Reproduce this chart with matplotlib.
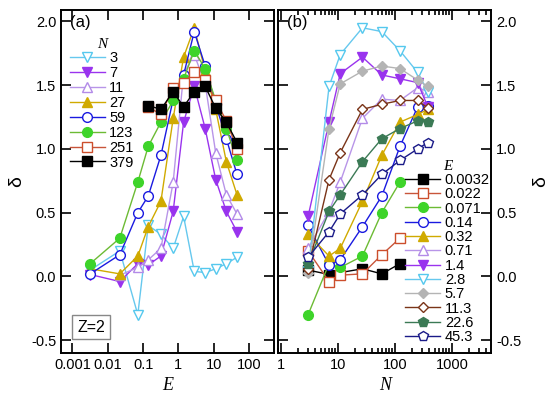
import numpy as np
import matplotlib
matplotlib.use('Agg')
import matplotlib.pyplot as plt

# cluster sizes N and energies E
N_vals = [3, 7, 11, 27, 59, 123, 251, 379]
E_vals = [0.0032, 0.022, 0.071, 0.14, 0.32, 0.71, 1.4, 2.8, 5.7, 11.3, 22.6, 45.3]
nan = np.nan

# delta for each N (rows), one value per E (columns)
delta_N3 = [0.05, 0.20, -0.30, 0.40, 0.33, 0.22, 0.47, 0.04, 0.03, 0.06, 0.10, 0.15]
delta_N7 = [0.015, -0.04, 0.10, 0.09, 0.16, 0.51, 1.21, 1.49, 1.16, 0.76, 0.51, 0.35]
delta_N11 = [nan, 0.01, 0.07, 0.13, 0.22, 0.74, 1.59, 1.74, 1.51, 0.97, 0.64, 0.49]
delta_N27 = [0.06, 0.02, 0.16, 0.39, 0.59, 1.24, 1.72, 1.95, 1.61, 1.31, 0.90, 0.64]
delta_N59 = [0.02, 0.17, 0.50, 0.63, 0.95, 1.39, 1.58, 1.92, 1.65, 1.35, 1.08, 0.80]
delta_N123 = [0.10, 0.30, 0.74, 1.02, 1.21, 1.38, 1.55, 1.77, 1.63, 1.38, 1.16, 0.91]
delta_N251 = [nan, nan, nan, 1.33, 1.27, 1.48, 1.52, 1.60, 1.54, 1.38, 1.22, 1.00]
delta_N379 = [nan, nan, nan, 1.34, 1.31, 1.45, 1.33, 1.45, 1.49, 1.32, 1.21, 1.05]

delta = np.array([delta_N3, delta_N7, delta_N11, delta_N27,
                  delta_N59, delta_N123, delta_N251, delta_N379])

# styles: (line colour, marker colour, marker, filled)
n_styles = [
    ('#66c8ee', '#55c8ee', 'v', False),
    ('#9a33ee', '#9933ee', 'v', True),
    ('#b895e8', '#b38be8', '^', False),
    ('#d0aa00', '#d0aa00', '^', True),
    ('#1a1ae0', '#1a1ae0', 'o', False),
    ('#6cbb34', '#3ed42a', 'o', True),
    ('#c8553a', '#cc4e2c', 's', False),
    ('black', 'black', 's', True),
]
e_styles = [
    ('black', 'black', 's', True),
    ('#c8553a', '#cc4e2c', 's', False),
    ('#6cbb34', '#3ed42a', 'o', True),
    ('#1a1ae0', '#1a1ae0', 'o', False),
    ('#d0aa00', '#d0aa00', '^', True),
    ('#b895e8', '#b38be8', '^', False),
    ('#9a33ee', '#9933ee', 'v', True),
    ('#66c8ee', '#55c8ee', 'v', False),
    ('#b4b4b4', '#b4b4b4', 'D', True),
    ('#7a3418', '#7a3418', 'D', False),
    ('#3b7a55', '#3b7a55', 'p', True),
    ('#1a1a88', '#1a1a88', 'p', False),
]

plt.rcParams['font.family'] = ['Liberation Sans', 'DejaVu Sans']
plt.rcParams['font.size'] = 10.5

fig = plt.figure(figsize=(5.5, 3.97), dpi=100)
ax1 = fig.add_axes([0.111, 0.111, 0.387, 0.864])
ax2 = fig.add_axes([0.506, 0.111, 0.387, 0.864])


def draw(ax, x, y, style, label):
    lc, mc, mk, filled = style
    x = np.asarray(x)
    y = np.asarray(y)
    ok = ~np.isnan(y)
    ms = {'D': 5.6, 'p': 7.4, 's': 6.6}.get(mk, 7.0)
    ax.plot(x[ok], y[ok], color=lc, lw=1.0, marker=mk, ms=ms,
            mec=mc, mfc=mc if filled else 'white', mew=1.0, label=label)


for i, n in enumerate(N_vals):
    draw(ax1, E_vals, delta[i], n_styles[i], str(n))

for j, e in enumerate(E_vals):
    draw(ax2, N_vals, delta[:, j], e_styles[j], str(e))

for ax in (ax1, ax2):
    ax.set_xscale('log')
    ax.set_ylim(-0.6, 2.09)
    ax.set_yticks([-0.5, 0.0, 0.5, 1.0, 1.5, 2.0])
    ax.set_yticklabels(['-0.5', '0.0', '0.5', '1.0', '1.5', '2.0'])
    ax.tick_params(which='both', direction='in', top=True, right=True, width=1.2)
    ax.tick_params(which='major', length=7)
    ax.tick_params(which='minor', length=3.5)
    for s in ax.spines.values():
        s.set_linewidth(1.4)

ax1.set_xlim(4.8e-4, 500)
ax1.set_xticks([0.001, 0.01, 0.1, 1, 10, 100])
ax1.set_xticklabels(['0.001', '0.01', '0.1', '1', '10', '100'])
ax1.set_xlabel('E', family='Liberation Serif', style='italic', fontsize=13)
ax1.set_ylabel('δ', fontsize=14)

ax2.set_xlim(0.9, 4900)
ax2.set_xticks([1, 10, 100, 1000])
ax2.set_xticklabels(['1', '10', '100', '1000'])
ax2.set_xlabel('N', family='Liberation Serif', style='italic', fontsize=13)
ax2.tick_params(axis='y', labelleft=False, labelright=True)
ax2.yaxis.set_label_position('right')
ax2.set_ylabel('δ', fontsize=14, labelpad=8)

ax1.text(0.04, 0.985, '(a)', transform=ax1.transAxes, fontsize=12, va='top')
ax2.text(0.04, 0.985, '(b)', transform=ax2.transAxes, fontsize=12, va='top')
ax1.text(0.075, 0.075, 'Z=2', transform=ax1.transAxes, fontsize=11.5, va='center',
         bbox=dict(boxstyle='square,pad=0.3', fc='white', ec='#888888', lw=1))

leg1 = ax1.legend(loc='upper left', bbox_to_anchor=(0.0, 0.945), frameon=False,
                  title='N', handlelength=2.4, handletextpad=0.3,
                  labelspacing=0.06, borderaxespad=0.2, fontsize=10.5,
                  title_fontproperties={'family': 'Liberation Serif',
                                        'style': 'italic', 'size': 11})
leg2 = ax2.legend(loc='lower right', bbox_to_anchor=(1.035, 0.0), frameon=False,
                  title='E', handlelength=2.4, handletextpad=0.3,
                  labelspacing=0.02, borderaxespad=0.2, fontsize=10.5,
                  title_fontproperties={'family': 'Liberation Serif',
                                        'style': 'italic', 'size': 11})

fig.savefig('out.png', dpi=100)
